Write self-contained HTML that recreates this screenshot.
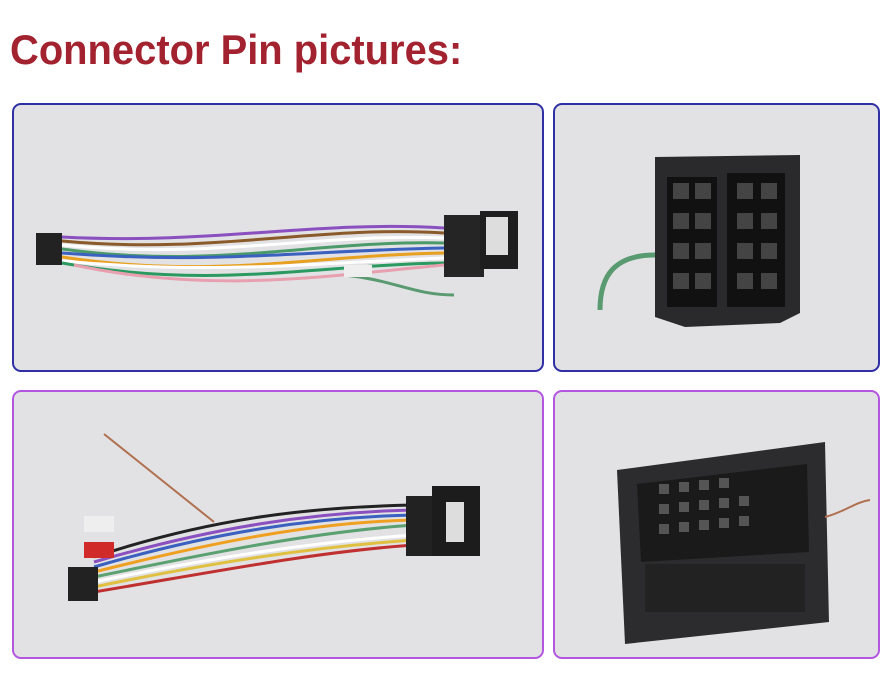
<!DOCTYPE html>
<html><head><style>
body{margin:0;width:894px;height:690px;background:#fff;position:relative;overflow:hidden;font-family:"Liberation Sans",sans-serif}
.t{position:absolute;left:10px;top:26px;font-size:42px;font-weight:bold;color:#a3222f;transform-origin:0 0;transform:scaleX(0.95);white-space:nowrap}
.p{position:absolute;border-radius:9px;background:#e2e2e4;overflow:hidden;box-sizing:border-box}
.b{border:2px solid #2f2fa6}.u{border:2px solid #b456e0}
svg{position:absolute;left:0;top:0}
</style></head><body>
<div class="t">Connector Pin pictures:</div>
<div class="p b" style="left:12px;top:103px;width:532px;height:269px">
<svg width="532" height="269">
<rect x="22" y="128" width="26" height="32" fill="#222"/>
<g fill="none" stroke-width="3">
<path d="M48 136 C200 150 300 120 430 128" stroke="#8a5a2a"/>
<path d="M48 140 C200 155 300 128 430 133" stroke="#fff"/>
<path d="M48 144 C200 165 300 135 430 138" stroke="#4a9a6a"/>
<path d="M48 148 C200 160 300 145 430 143" stroke="#3a60c0"/>
<path d="M48 152 C200 175 300 150 430 148" stroke="#e8a020"/>
<path d="M48 156 C200 170 300 158 430 153" stroke="#fff"/>
<path d="M48 158 C200 185 300 160 430 158" stroke="#2a9a60"/>
<path d="M48 132 C200 140 300 115 430 123" stroke="#8a50c0"/>
<path d="M60 160 C200 190 320 170 430 160" stroke="#e8a0b0"/>
<path d="M330 170 C380 175 400 190 440 190" stroke="#5a9a70"/>
</g>
<rect x="430" y="110" width="40" height="62" fill="#252525"/>
<rect x="466" y="106" width="38" height="58" fill="#1e1e1e"/>
<rect x="472" y="112" width="22" height="38" fill="#ddd"/>
<rect x="330" y="160" width="28" height="12" fill="#eee"/>
</svg></div>
<div class="p b" style="left:553px;top:103px;width:327px;height:269px">
<svg width="327" height="269">
<path d="M100 52 L245 50 L245 208 L225 218 L130 222 L100 212 Z" fill="#2a2a2c"/>
<g fill="#111">
<rect x="112" y="72" width="50" height="130"/><rect x="172" y="68" width="58" height="134"/>
</g>
<g fill="#444">
<rect x="118" y="78" width="16" height="16"/><rect x="140" y="78" width="16" height="16"/>
<rect x="118" y="108" width="16" height="16"/><rect x="140" y="108" width="16" height="16"/>
<rect x="118" y="138" width="16" height="16"/><rect x="140" y="138" width="16" height="16"/>
<rect x="118" y="168" width="16" height="16"/><rect x="140" y="168" width="16" height="16"/>
<rect x="182" y="78" width="16" height="16"/><rect x="206" y="78" width="16" height="16"/>
<rect x="182" y="108" width="16" height="16"/><rect x="206" y="108" width="16" height="16"/>
<rect x="182" y="138" width="16" height="16"/><rect x="206" y="138" width="16" height="16"/>
<rect x="182" y="168" width="16" height="16"/><rect x="206" y="168" width="16" height="16"/>
</g>
<path d="M100 150 C60 150 45 170 45 205" stroke="#5a9a70" stroke-width="5" fill="none"/>
</svg></div>
<div class="p u" style="left:12px;top:390px;width:532px;height:269px">
<svg width="532" height="269">
<path d="M90 42 L200 130" stroke="#b07050" stroke-width="2"/>
<g fill="none" stroke-width="3">
<path d="M80 180 C200 150 300 130 400 128" stroke="#f0a020"/>
<path d="M80 175 C200 140 300 125 400 123" stroke="#3a60c0"/>
<path d="M80 185 C200 160 300 140 400 133" stroke="#5aa070"/>
<path d="M80 170 C200 135 300 120 400 118" stroke="#8a50c0"/>
<path d="M80 190 C200 165 300 150 400 143" stroke="#fff"/>
<path d="M80 195 C200 170 300 155 400 148" stroke="#e0c040"/>
<path d="M80 165 C200 125 300 115 400 113" stroke="#222"/>
<path d="M80 200 C200 180 300 160 400 153" stroke="#c03030"/>
</g>
<rect x="70" y="124" width="30" height="16" fill="#eee"/><rect x="70" y="150" width="30" height="16" fill="#d02a2a"/>
<rect x="54" y="175" width="30" height="34" fill="#222"/>
<rect x="392" y="104" width="28" height="60" fill="#222"/>
<rect x="418" y="94" width="48" height="70" fill="#1c1c1c"/>
<rect x="432" y="110" width="18" height="40" fill="#ddd"/>
</svg></div>
<div class="p u" style="left:553px;top:390px;width:327px;height:269px">
<svg width="327" height="269">
<path d="M62 78 L270 50 L274 230 L70 252 Z" fill="#2c2c2e"/>
<path d="M82 92 L252 72 L254 160 L86 170 Z" fill="#1a1a1a"/>
<rect x="90" y="172" width="160" height="48" fill="#222"/>
<g fill="#555">
<rect x="104" y="92" width="10" height="10"/><rect x="124" y="90" width="10" height="10"/><rect x="144" y="88" width="10" height="10"/><rect x="164" y="86" width="10" height="10"/>
<rect x="104" y="112" width="10" height="10"/><rect x="124" y="110" width="10" height="10"/><rect x="144" y="108" width="10" height="10"/><rect x="164" y="106" width="10" height="10"/><rect x="184" y="104" width="10" height="10"/>
<rect x="104" y="132" width="10" height="10"/><rect x="124" y="130" width="10" height="10"/><rect x="144" y="128" width="10" height="10"/><rect x="164" y="126" width="10" height="10"/><rect x="184" y="124" width="10" height="10"/>
</g>
<path d="M270 125 C290 120 300 110 315 108" stroke="#b07050" stroke-width="2" fill="none"/>
</svg></div>
</body></html>
